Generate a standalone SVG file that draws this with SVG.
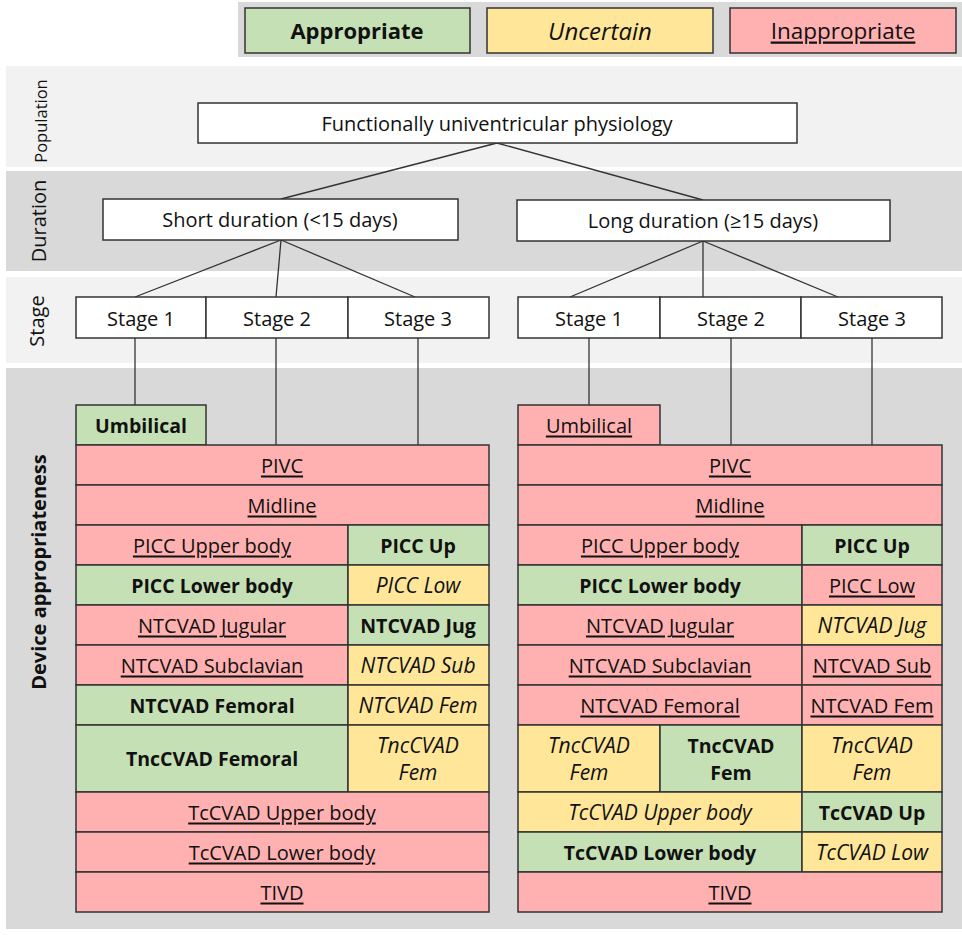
<svg xmlns="http://www.w3.org/2000/svg" width="962" height="935" viewBox="0 0 962 935">
  <style>
    text { font-family: "Open Sans", "Liberation Sans", sans-serif; fill: #111; text-anchor: middle; dominant-baseline: central; }
    .box { stroke: #333; stroke-width: 1.5; }
    .w { fill: #ffffff; }
    .g { fill: #c5e0b4; }
    .y { fill: #ffe699; }
    .r { fill: #ffb0b0; }
    .band-l { fill: #f2f2f2; }
    .band-d { fill: #d9d9d9; }
    .cell { font-size: 20px; }
    .ap { font-weight: bold; }
    .un { font-style: italic; }
    .in { text-decoration: underline; }
    .cell.ap { font-size: 19.5px; }
    .cell.un { font-size: 21px; }
    .side { font-size: 20px; }
    .legend { font-size: 22.5px; }
    .legend.ap { font-size: 22px; }
    .legend.un { font-size: 24px; }
    .conn { stroke: #333; stroke-width: 1.3; fill: none; }
  </style>

  <!-- background bands -->
  <rect x="238" y="2" width="724" height="55" class="band-d"/>
  <rect x="6" y="66" width="956" height="101" class="band-l"/>
  <rect x="6" y="171" width="956" height="100" class="band-d"/>
  <rect x="6" y="277" width="956" height="86" class="band-l"/>
  <rect x="6" y="368" width="956" height="561" class="band-d"/>

  <!-- legend -->
  <g id="legend">
    <rect x="245" y="8" width="225" height="45" class="box g"/>
    <text x="357" y="30" class="legend ap">Appropriate</text>
    <rect x="487" y="8" width="226" height="45" class="box y"/>
    <text x="600" y="30" class="legend un">Uncertain</text>
    <rect x="730" y="8" width="226" height="45" class="box r"/>
    <text x="843" y="30" class="legend in">Inappropriate</text>
  </g>

  <!-- row labels -->
  <g id="row-labels">
    <text transform="translate(40 121) rotate(-90)" font-size="16.5">Population</text>
    <text transform="translate(38 221) rotate(-90)" class="side">Duration</text>
    <text transform="translate(36 321) rotate(-90)" class="side">Stage</text>
    <text transform="translate(38 572) rotate(-90)" class="side ap">Device appropriateness</text>
  </g>

  <!-- connectors -->
  <g id="connectors">
    <line x1="497" y1="143" x2="281" y2="199" class="conn"/>
    <line x1="497" y1="143" x2="703" y2="200" class="conn"/>
    <line x1="281" y1="240" x2="135" y2="297" class="conn"/>
    <line x1="281" y1="240" x2="276" y2="297" class="conn"/>
    <line x1="281" y1="240" x2="415" y2="297" class="conn"/>
    <line x1="703" y1="241" x2="570" y2="297" class="conn"/>
    <line x1="703" y1="241" x2="703" y2="297" class="conn"/>
    <line x1="703" y1="241" x2="838" y2="297" class="conn"/>
    <line x1="135" y1="338" x2="135" y2="405" class="conn"/>
    <line x1="276" y1="338" x2="276" y2="445" class="conn"/>
    <line x1="418" y1="338" x2="418" y2="445" class="conn"/>
    <line x1="589" y1="338" x2="589" y2="405" class="conn"/>
    <line x1="731" y1="338" x2="731" y2="445" class="conn"/>
    <line x1="872" y1="338" x2="872" y2="445" class="conn"/>
  </g>

  <!-- population -->
  <g id="population">
    <rect x="198" y="103" width="599" height="40" class="box w"/>
    <text x="497" y="123" class="cell">Functionally univentricular physiology</text>
  </g>

  <!-- durations -->
  <g id="short-duration">
    <rect x="103" y="199" width="355" height="41" class="box w"/>
    <text x="280" y="219" class="cell">Short duration (&lt;15 days)</text>
  </g>
  <g id="long-duration">
    <rect x="517" y="200" width="373" height="41" class="box w"/>
    <text x="703" y="220" class="cell">Long duration (≥15 days)</text>
  </g>

  <!-- stages, short duration -->
  <g id="short-stages">
    <rect x="76" y="297" width="130" height="41" class="box w"/>
    <text x="141" y="318" class="cell">Stage 1</text>
    <rect x="206" y="297" width="142" height="41" class="box w"/>
    <text x="277" y="318" class="cell">Stage 2</text>
    <rect x="348" y="297" width="141" height="41" class="box w"/>
    <text x="418" y="318" class="cell">Stage 3</text>
  </g>

  <!-- stages, long duration -->
  <g id="long-stages">
    <rect x="518" y="297" width="142" height="41" class="box w"/>
    <text x="589" y="318" class="cell">Stage 1</text>
    <rect x="660" y="297" width="141" height="41" class="box w"/>
    <text x="731" y="318" class="cell">Stage 2</text>
    <rect x="801" y="297" width="141" height="41" class="box w"/>
    <text x="872" y="318" class="cell">Stage 3</text>
  </g>

  <!-- devices, short duration -->
  <g id="short-devices">
    <rect x="76" y="405" width="130" height="40" class="box g"/>
    <text x="141" y="425" class="cell ap">Umbilical</text>

    <rect x="76" y="445" width="413" height="40" class="box r"/>
    <text x="282" y="465" class="cell in">PIVC</text>
    <rect x="76" y="485" width="413" height="40" class="box r"/>
    <text x="282" y="505" class="cell in">Midline</text>

    <rect x="76" y="525" width="272" height="40" class="box r"/>
    <text x="212" y="545" class="cell in">PICC Upper body</text>
    <rect x="348" y="525" width="141" height="40" class="box g"/>
    <text x="418" y="545" class="cell ap">PICC Up</text>

    <rect x="76" y="565" width="272" height="40" class="box g"/>
    <text x="212" y="585" class="cell ap">PICC Lower body</text>
    <rect x="348" y="565" width="141" height="40" class="box y"/>
    <text x="418" y="585" class="cell un">PICC Low</text>

    <rect x="76" y="605" width="272" height="40" class="box r"/>
    <text x="212" y="625" class="cell in">NTCVAD Jugular</text>
    <rect x="348" y="605" width="141" height="40" class="box g"/>
    <text x="418" y="625" class="cell ap">NTCVAD Jug</text>

    <rect x="76" y="645" width="272" height="40" class="box r"/>
    <text x="212" y="665" class="cell in">NTCVAD Subclavian</text>
    <rect x="348" y="645" width="141" height="40" class="box y"/>
    <text x="418" y="665" class="cell un">NTCVAD Sub</text>

    <rect x="76" y="685" width="272" height="40" class="box g"/>
    <text x="212" y="705" class="cell ap">NTCVAD Femoral</text>
    <rect x="348" y="685" width="141" height="40" class="box y"/>
    <text x="418" y="705" class="cell un">NTCVAD Fem</text>

    <rect x="76" y="725" width="272" height="67" class="box g"/>
    <text x="212" y="758" class="cell ap">TncCVAD Femoral</text>
    <rect x="348" y="725" width="141" height="67" class="box y"/>
    <text x="418" y="745" class="cell un">TncCVAD</text>
    <text x="418" y="772" class="cell un">Fem</text>

    <rect x="76" y="792" width="413" height="40" class="box r"/>
    <text x="282" y="812" class="cell in">TcCVAD Upper body</text>
    <rect x="76" y="832" width="413" height="40" class="box r"/>
    <text x="282" y="852" class="cell in">TcCVAD Lower body</text>
    <rect x="76" y="872" width="413" height="40" class="box r"/>
    <text x="282" y="892" class="cell in">TIVD</text>
  </g>

  <!-- devices, long duration -->
  <g id="long-devices">
    <rect x="518" y="405" width="142" height="40" class="box r"/>
    <text x="589" y="425" class="cell in">Umbilical</text>

    <rect x="518" y="445" width="424" height="40" class="box r"/>
    <text x="730" y="465" class="cell in">PIVC</text>
    <rect x="518" y="485" width="424" height="40" class="box r"/>
    <text x="730" y="505" class="cell in">Midline</text>

    <rect x="518" y="525" width="284" height="40" class="box r"/>
    <text x="660" y="545" class="cell in">PICC Upper body</text>
    <rect x="802" y="525" width="140" height="40" class="box g"/>
    <text x="872" y="545" class="cell ap">PICC Up</text>

    <rect x="518" y="565" width="284" height="40" class="box g"/>
    <text x="660" y="585" class="cell ap">PICC Lower body</text>
    <rect x="802" y="565" width="140" height="40" class="box r"/>
    <text x="872" y="585" class="cell in">PICC Low</text>

    <rect x="518" y="605" width="284" height="40" class="box r"/>
    <text x="660" y="625" class="cell in">NTCVAD Jugular</text>
    <rect x="802" y="605" width="140" height="40" class="box y"/>
    <text x="872" y="625" class="cell un">NTCVAD Jug</text>

    <rect x="518" y="645" width="284" height="40" class="box r"/>
    <text x="660" y="665" class="cell in">NTCVAD Subclavian</text>
    <rect x="802" y="645" width="140" height="40" class="box r"/>
    <text x="872" y="665" class="cell in">NTCVAD Sub</text>

    <rect x="518" y="685" width="284" height="40" class="box r"/>
    <text x="660" y="705" class="cell in">NTCVAD Femoral</text>
    <rect x="802" y="685" width="140" height="40" class="box r"/>
    <text x="872" y="705" class="cell in">NTCVAD Fem</text>

    <rect x="518" y="725" width="142" height="67" class="box y"/>
    <text x="589" y="745" class="cell un">TncCVAD</text>
    <text x="589" y="772" class="cell un">Fem</text>
    <rect x="660" y="725" width="142" height="67" class="box g"/>
    <text x="731" y="745" class="cell ap">TncCVAD</text>
    <text x="731" y="772" class="cell ap">Fem</text>
    <rect x="802" y="725" width="140" height="67" class="box y"/>
    <text x="872" y="745" class="cell un">TncCVAD</text>
    <text x="872" y="772" class="cell un">Fem</text>

    <rect x="518" y="792" width="284" height="40" class="box y"/>
    <text x="660" y="812" class="cell un">TcCVAD Upper body</text>
    <rect x="802" y="792" width="140" height="40" class="box g"/>
    <text x="872" y="812" class="cell ap">TcCVAD Up</text>

    <rect x="518" y="832" width="284" height="40" class="box g"/>
    <text x="660" y="852" class="cell ap">TcCVAD Lower body</text>
    <rect x="802" y="832" width="140" height="40" class="box y"/>
    <text x="872" y="852" class="cell un">TcCVAD Low</text>

    <rect x="518" y="872" width="424" height="40" class="box r"/>
    <text x="730" y="892" class="cell in">TIVD</text>
  </g>
</svg>
